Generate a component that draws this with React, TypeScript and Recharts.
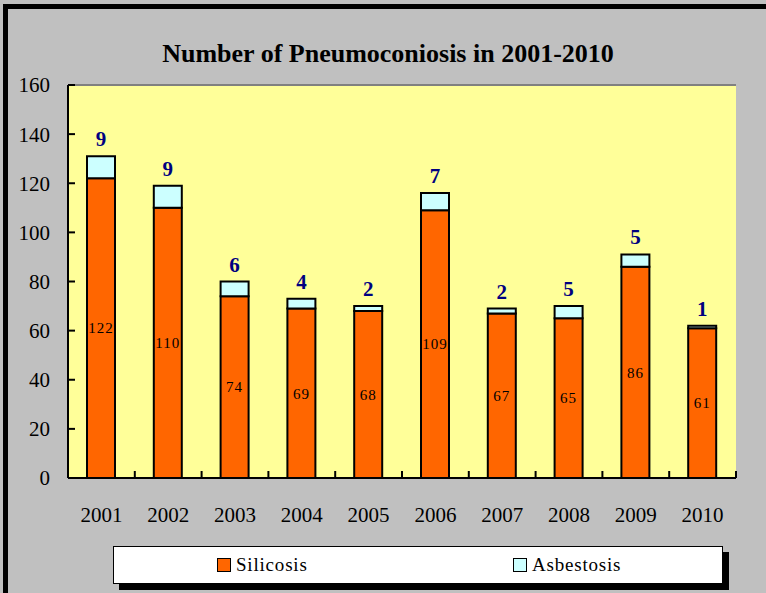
import { BarChart, Bar, XAxis, YAxis, CartesianGrid, LabelList, Legend, ReferenceLine } from "recharts";

const years = ["2001", "2002", "2003", "2004", "2005", "2006", "2007", "2008", "2009", "2010"];
const silicosis = [122, 110, 74, 69, 68, 109, 67, 65, 86, 61];
const asbestosis = [9, 9, 6, 4, 2, 7, 2, 5, 5, 1];
const yTicks = [0, 20, 40, 60, 80, 100, 120, 140, 160];

const data = years.map((year, i) => ({
  year,
  silicosis: silicosis[i],
  asbestosis: asbestosis[i],
}));

const FONT = "'Liberation Serif', 'Times New Roman', serif";
const PLOT_LEFT = 68;
const PLOT_RIGHT = 736;
const AXIS_Y = 478;
const STEP = (PLOT_RIGHT - PLOT_LEFT) / years.length;

function YearTick(props: any) {
  const { x, payload } = props;
  const right = x + STEP / 2;
  return (
    <g>
      <line x1={right} x2={right} y1={AXIS_Y - 7} y2={AXIS_Y} stroke="#000" strokeWidth={2} />
      <text x={x} y={522} textAnchor="middle" fontFamily={FONT} fontSize={21} fill="#000">
        {payload.value}
      </text>
    </g>
  );
}

function LegendBox() {
  const item = (color: string, label: string, left: number) => (
    <div style={{ position: "absolute", left, top: 10, display: "flex", alignItems: "center" }}>
      <span
        style={{
          display: "inline-block",
          width: 12,
          height: 12,
          background: color,
          border: "1.5px solid #000",
          marginRight: 5,
        }}
      />
      <span style={{ fontFamily: FONT, fontSize: 19, letterSpacing: 0.8, lineHeight: "16px" }}>{label}</span>
    </div>
  );
  return (
    <div
      style={{
        position: "relative",
        width: 608,
        height: 36,
        background: "#fff",
        border: "1.5px solid #000",
        boxShadow: "6px 6px 0 #000",
      }}
    >
      {item("#FF6600", "Silicosis", 103)}
      {item("#CCFFFF", "Asbestosis", 399)}
    </div>
  );
}

export default function App() {
  return (
    <div
      style={{
        position: "absolute",
        left: 0,
        top: 0,
        width: 766,
        height: 593,
        background: "#C0C0C0",
        overflow: "hidden",
      }}
    >
      <div
        style={{
          position: "absolute",
          left: 3,
          top: 4,
          width: 820,
          height: 700,
          border: "5px solid #000",
        }}
      />
      <div
        style={{
          position: "absolute",
          left: 0,
          width: 776,
          top: 39,
          textAlign: "center",
          fontFamily: FONT,
          fontWeight: "bold",
          fontSize: 26,
          lineHeight: "30px",
        }}
      >
        Number of Pneumoconiosis in 2001-2010
      </div>
      <div style={{ position: "absolute", left: 0, top: 0 }}>
        <BarChart
          width={766}
          height={593}
          data={data}
          barSize={28}
          margin={{ top: 85, right: 30, bottom: 65, left: 8 }}
        >
          <CartesianGrid horizontal={false} vertical={false} fill="#FFFF99" />
          <ReferenceLine yAxisId="left" y={160} stroke="#808080" strokeWidth={2} />
          <XAxis
            dataKey="year"
            height={50}
            tickLine={false}
            axisLine={{ stroke: "#000", strokeWidth: 2 }}
            tick={<YearTick />}
            interval={0}
          />
          <YAxis
            yAxisId="left"
            width={60}
            domain={[0, 160]}
            ticks={yTicks}
            interval={0}
            tickSize={-7}
            tickMargin={25}
            tickLine={{ stroke: "#000", strokeWidth: 2 }}
            axisLine={{ stroke: "#000", strokeWidth: 2 }}
            tick={{ fontFamily: FONT, fontSize: 21, fill: "#000" }}
          />
          <YAxis
            yAxisId="right"
            orientation="right"
            width={0}
            domain={[0, 160]}
            tick={false}
            tickLine={false}
            axisLine={{ stroke: "#808080", strokeWidth: 2 }}
          />
          <Legend
            layout="horizontal"
            verticalAlign="middle"
            wrapperStyle={{ left: 113, top: 546, width: 611, height: 39 }}
            content={() => <LegendBox />}
          />
          <Bar
            yAxisId="left"
            dataKey="silicosis"
            name="Silicosis"
            stackId="a"
            fill="#FF6600"
            stroke="#000"
            strokeWidth={2}
            isAnimationActive={false}
          >
            <LabelList
              dataKey="silicosis"
              position="center"
              style={{ fontFamily: FONT, fontSize: 15, fill: "#000", letterSpacing: 1 }}
            />
          </Bar>
          <Bar
            yAxisId="left"
            dataKey="asbestosis"
            name="Asbestosis"
            stackId="a"
            fill="#CCFFFF"
            stroke="#000"
            strokeWidth={2}
            isAnimationActive={false}
          >
            <LabelList
              dataKey="asbestosis"
              position="top"
              offset={10}
              style={{ fontFamily: FONT, fontSize: 21, fontWeight: "bold", fill: "#000080" }}
            />
          </Bar>
        </BarChart>
      </div>
    </div>
  );
}
